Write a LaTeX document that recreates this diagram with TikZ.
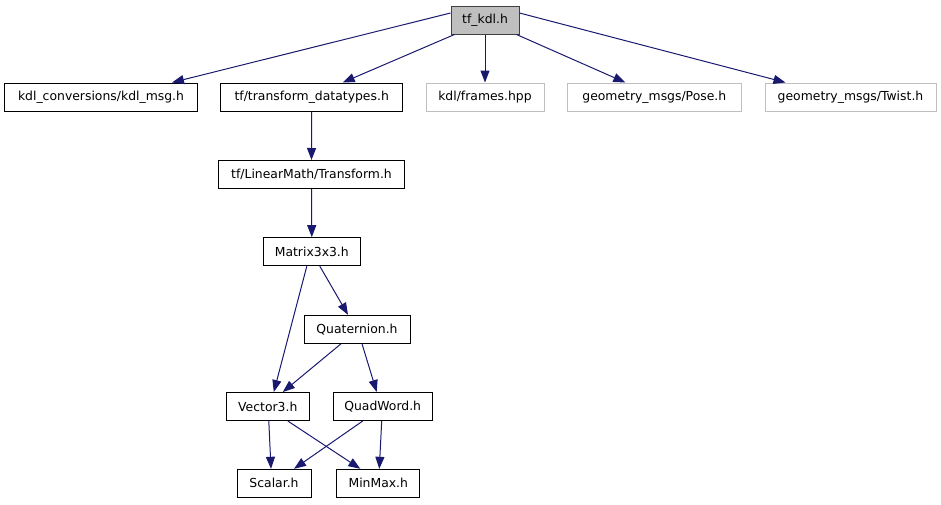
\documentclass[tikz,border=0pt]{standalone}
\usepackage{fontspec}
\setmainfont{DejaVu Sans}
\usetikzlibrary{arrows.meta}
\definecolor{edgec}{HTML}{191970}
\definecolor{grayb}{HTML}{BFBFBF}
\tikzset{
  box/.style={draw=black, line width=1pt, minimum height=28pt, inner sep=0pt, font=\fontsize{12.4pt}{14pt}\selectfont, fill=white},
  ext/.style={box, draw=grayb},
  cur/.style={box, fill=grayb, draw=black!75},
  edge/.style={draw=edgec, line width=1pt, -{Triangle[length=12pt,width=9pt]}, color=edgec}
}
\begin{document}
\begin{tikzpicture}[x=1pt,y=-1pt]
\useasboundingbox (0,0) rectangle (941,504);
\node[cur, minimum width=68pt] (tf) at (485,20) {tf\_kdl.h};
\node[box, minimum width=193pt] (km) at (101,97) {kdl\_conversions/kdl\_msg.h};
\node[box, minimum width=182pt] (td) at (311.7,97) {tf/transform\_datatypes.h};
\node[ext, minimum width=118pt] (fr) at (485,97) {kdl/frames.hpp};
\node[ext, minimum width=174pt] (po) at (654.3,97) {geometry\_msgs/Pose.h};
\node[ext, minimum width=171pt] (tw) at (850.5,97) {geometry\_msgs/Twist.h};
\node[box, minimum width=186pt] (tr) at (311.5,174.5) {tf/LinearMath/Transform.h};
\node[box, minimum width=97pt] (m) at (311.8,251.7) {Matrix3x3.h};
\node[box, minimum width=106pt] (q) at (357,329.3) {Quaternion.h};
\node[box, minimum width=83pt] (v) at (267.8,406.5) {Vector3.h};
\node[box, minimum width=99pt] (qw) at (382.7,406.5) {QuadWord.h};
\node[box, minimum width=74pt] (s) at (274,483.3) {Scalar.h};
\node[box, minimum width=83pt] (mm) at (378.3,483.3) {MinMax.h};

\draw[edge] ([yshift=7pt]tf.west) -- ([xshift=71pt]km.north);
\draw[edge] ([xshift=4pt]tf.south west) -- ([xshift=31pt]td.north);
\draw[edge] (tf.south) -- (fr.north);
\draw[edge] ([xshift=-3pt]tf.south east) -- ([xshift=-29pt]po.north);
\draw[edge] ([yshift=7pt]tf.east) -- ([xshift=-65pt]tw.north);
\draw[edge] (td.south) -- (tr.north);
\draw[edge] (tr.south) -- (m.north);
\draw[edge] ([xshift=-5pt]m.south) -- ([xshift=6pt]v.north);
\draw[edge] ([xshift=8pt]m.south) -- ([xshift=-9pt]q.north);
\draw[edge] ([xshift=-16pt]q.south) -- ([xshift=15pt]v.north);
\draw[edge] ([xshift=5pt]q.south) -- ([xshift=-6pt]qw.north);
\draw[edge] ([xshift=1pt]v.south) -- ([xshift=-3pt]s.north);
\draw[edge] ([xshift=20pt]v.south) -- ([xshift=-18pt]mm.north);
\draw[edge] ([xshift=-20pt]qw.south) -- ([xshift=20pt]s.north);
\draw[edge] ([xshift=-1pt]qw.south) -- ([xshift=1pt]mm.north);
\end{tikzpicture}
\end{document}
